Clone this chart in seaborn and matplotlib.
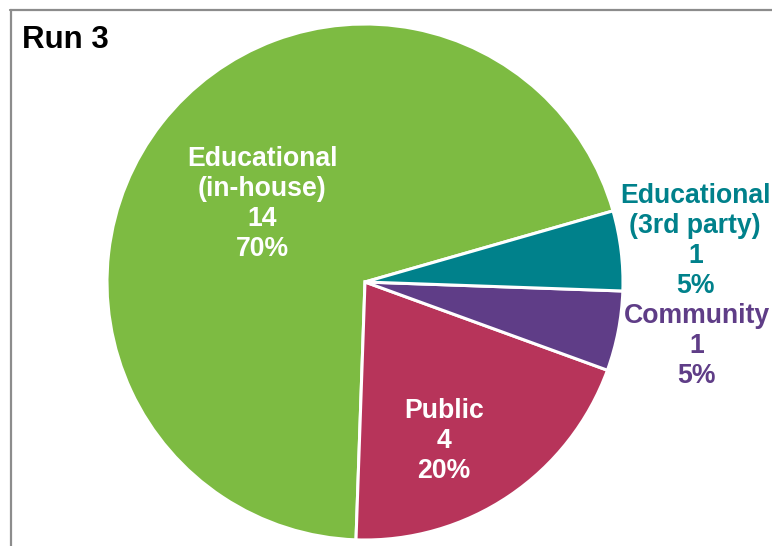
import numpy as np
import matplotlib
matplotlib.use("Agg")
import matplotlib.pyplot as plt
from matplotlib.lines import Line2D
import seaborn as sns

# Run 3 breakdown by category
categories = ["Educational\n(in-house)", "Public", "Community", "Educational\n(3rd party)"]
counts = [14, 4, 1, 1]
percents = [70, 20, 5, 5]
colors = ["#7DBB42", "#B7345A", "#5F3D87", "#00818B"]
label_colors = ["white", "white", "#5F3D87", "#00818B"]
title = "Run 3"

sns.set_theme(style="white")
plt.rcParams["font.family"] = ["Liberation Sans", "DejaVu Sans"]

fig = plt.figure(figsize=(7.72, 5.46), dpi=100)
fig.patch.set_facecolor("white")

# square axes holding the pie (radius 1 in data units)
ax = fig.add_axes([107 / 772, 6 / 546, 516 / 772, 516 / 546])

wedges, _ = ax.pie(
    counts,
    colors=sns.color_palette(colors),
    startangle=16,
    counterclock=True,
    radius=1,
    wedgeprops=dict(edgecolor="white", linewidth=2.2),
)
ax.set_xlim(-1, 1)
ax.set_ylim(-1, 1)
ax.set_aspect("equal")
ax.axis("off")

# label placement (radius, angle offset in degrees) relative to each wedge's middle
placements = [(0.50, 0.9), (0.69, -7.6), (1.31, 0.0), (1.29, 0.1)]
for w, cat, n, p, tc, (r, dth) in zip(wedges, categories, counts, percents, label_colors, placements):
    mid = np.deg2rad((w.theta1 + w.theta2) / 2 + dth)
    x, y = r * np.cos(mid), r * np.sin(mid)
    ax.text(x, y, f"{cat}\n{n}\n{p}%", ha="center", va="center",
            color=tc, fontsize=19.2, fontweight="bold", linespacing=1.2,
            clip_on=False)

fig.text(22 / 772, 1 - 40 / 546, title, ha="left", va="center",
         fontsize=22.5, fontweight="bold", color="black")

# chart-area frame (top and left edges visible)
frame_color = "#8C8C8C"
fig.add_artist(Line2D([10 / 772, 1.0], [1 - 9.5 / 546, 1 - 9.5 / 546],
                      transform=fig.transFigure, color=frame_color, linewidth=1.6))
fig.add_artist(Line2D([10.5 / 772, 10.5 / 772], [0.0, 1 - 9.5 / 546],
                      transform=fig.transFigure, color=frame_color, linewidth=1.6))

fig.savefig("out.png", dpi=100, facecolor="white")
